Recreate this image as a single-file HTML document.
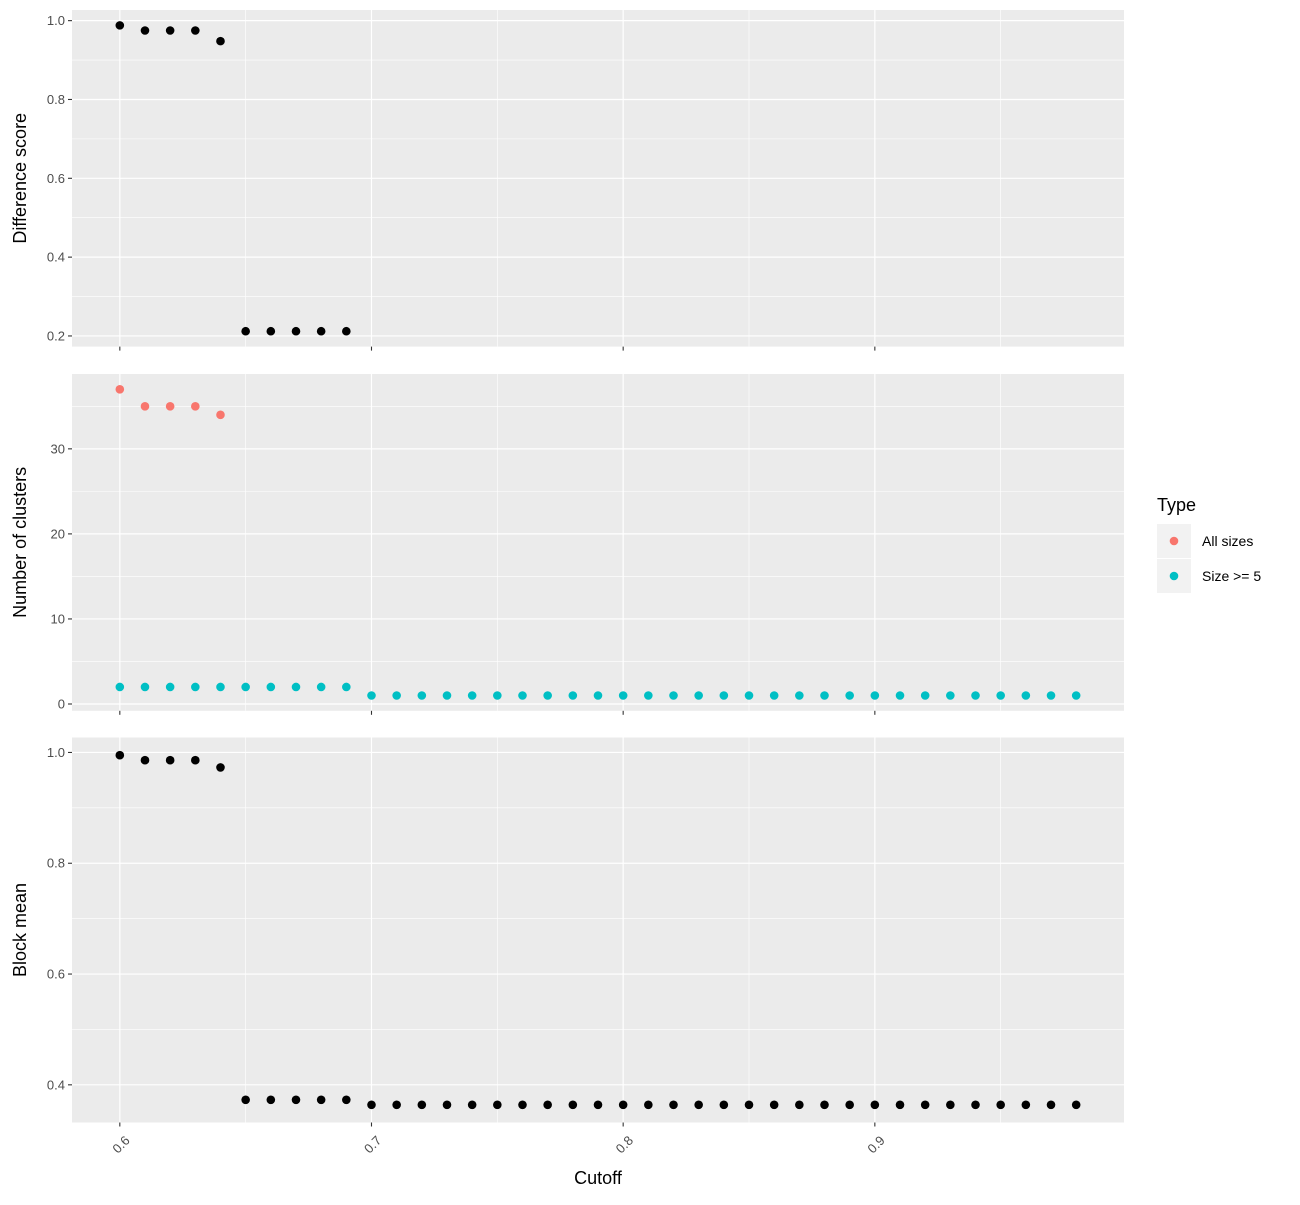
<!DOCTYPE html>
<html><head><meta charset="utf-8"><style>
body{margin:0;background:#fff;}
svg text{font-family:"Liberation Sans",sans-serif;}
</style></head><body>
<svg id="c" width="1300" height="1200" xmlns="http://www.w3.org/2000/svg"></svg>
<script>
const cutoffs=[0.6,0.61,0.62,0.63,0.64,0.65,0.66,0.67,0.68,0.69,0.7,0.71,0.72,0.73,0.74,0.75,0.76,0.77,0.78,0.79,0.8,0.81,0.82,0.83,0.84,0.85,0.86,0.87,0.88,0.89,0.9,0.91,0.92,0.93,0.94,0.95,0.96,0.97,0.98];
const diffCutoffs=[0.6,0.61,0.62,0.63,0.64,0.65,0.66,0.67,0.68,0.69];
const diffScore=[0.988,0.975,0.975,0.975,0.948,0.212,0.212,0.212,0.212,0.212];
const allCutoffs=[0.6,0.61,0.62,0.63,0.64];
const allSizes=[37,35,35,35,34];
const size5=[2,2,2,2,2,2,2,2,2,2,1,1,1,1,1,1,1,1,1,1,1,1,1,1,1,1,1,1,1,1,1,1,1,1,1,1,1,1,1];
const blockMean=[0.995,0.986,0.986,0.986,0.973,0.373,0.373,0.373,0.373,0.373,0.364,0.364,0.364,0.364,0.364,0.364,0.364,0.364,0.364,0.364,0.364,0.364,0.364,0.364,0.364,0.364,0.364,0.364,0.364,0.364,0.364,0.364,0.364,0.364,0.364,0.364,0.364,0.364,0.364];
const xTicks=[0.6,0.7,0.8,0.9];
const xMinor=[0.65,0.75,0.85,0.95];
const svg=document.getElementById('c');
const NS='http://www.w3.org/2000/svg';
function mk(t,a,p){const e=document.createElementNS(NS,t);for(const k in a)e.setAttribute(k,a[k]);(p||svg).appendChild(e);return e;}
const X0=72,X1=1124,xmin=0.581,xmax=0.999;
const sx=v=>X0+(v-xmin)/(xmax-xmin)*(X1-X0);
const panels=[
 {name:'difference-score-panel',top:10,bot:346.6,ymin:0.173,ymax:1.027,ticks:[0.2,0.4,0.6,0.8,1.0],minor:[0.3,0.5,0.7,0.9],lab:v=>v.toFixed(1),title:'Difference score'},
 {name:'number-of-clusters-panel',top:374,bot:710.8,ymin:-0.8,ymax:38.8,ticks:[0,10,20,30],minor:[5,15,25,35],lab:v=>String(v),title:'Number of clusters'},
 {name:'block-mean-panel',top:737.5,bot:1122.5,ymin:0.332,ymax:1.027,ticks:[0.4,0.6,0.8,1.0],minor:[0.5,0.7,0.9],lab:v=>v.toFixed(1),title:'Block mean'}
];
panels.forEach((p,i)=>{
 const g=mk('g',{});
 
 
 const sy=v=>p.bot-(v-p.ymin)/(p.ymax-p.ymin)*(p.bot-p.top);
 p.sy=sy;
 const bg=mk('rect',{x:X0,y:p.top,width:X1-X0,height:p.bot-p.top,fill:'#ebebeb'},g);
 
 p.minor.forEach(v=>mk('line',{x1:X0,x2:X1,y1:sy(v),y2:sy(v),stroke:'#fff','stroke-width':0.6},g));
 xMinor.forEach(v=>mk('line',{x1:sx(v),x2:sx(v),y1:p.top,y2:p.bot,stroke:'#fff','stroke-width':0.6},g));
 p.ticks.forEach(v=>{
  mk('line',{x1:X0,x2:X1,y1:sy(v),y2:sy(v),stroke:'#fff','stroke-width':1.2},g);
  mk('line',{x1:X0-4,x2:X0,y1:sy(v),y2:sy(v),stroke:'#333','stroke-width':1.1},g);
  const t=mk('text',{x:X0-7,y:sy(v)+4.5,'text-anchor':'end','font-size':13,fill:'#4d4d4d'},g);
  t.textContent=p.lab(v);
  
 });
 xTicks.forEach(v=>{
  mk('line',{x1:sx(v),x2:sx(v),y1:p.top,y2:p.bot,stroke:'#fff','stroke-width':1.2},g);
  mk('line',{x1:sx(v),x2:sx(v),y1:p.bot,y2:p.bot+4,stroke:'#333','stroke-width':1.1},g);
 });
 const cy=(p.top+p.bot)/2;
 const tt=mk('text',{x:26,y:cy,transform:`rotate(-90 26 ${cy})`,'text-anchor':'middle','font-size':18,fill:'#000'},g);
 tt.textContent=p.title;
 
});
function pts(p,xs,ys,col,nm){
 xs.forEach((x,i)=>{const c=mk('circle',{cx:sx(x),cy:p.sy(ys[i]),r:4.3,fill:col});
 });
}
pts(panels[0],diffCutoffs,diffScore,'#000','difference-point');
pts(panels[1],allCutoffs,allSizes,'#f8766d','all-sizes-point');
pts(panels[1],cutoffs,size5,'#00bfc4','size5-point');
pts(panels[2],cutoffs,blockMean,'#000','block-mean-point');
const pb=panels[2].bot;
xTicks.forEach(v=>{
 const x=sx(v)+4,y=pb+12;
 const t=mk('text',{x:x,y:y,transform:`rotate(-45 ${x} ${y})`,'text-anchor':'end','dominant-baseline':'hanging','font-size':13,fill:'#4d4d4d'});
 t.textContent=v.toFixed(1);
 
});
const xt=mk('text',{x:598,y:1184,'text-anchor':'middle','font-size':18});
xt.textContent='Cutoff';
const lg=mk('g',{});
const lt=mk('text',{x:1157,y:511,'font-size':18},lg);lt.textContent='Type';
[['All sizes','#f8766d',524],['Size >= 5','#00bfc4',559]].forEach(([n,c,y])=>{
 mk('rect',{x:1157,y:y,width:34,height:34,fill:'#f2f2f2'},lg);
 const d=mk('circle',{cx:1174,cy:y+17,r:4.3,fill:c},lg);
 
 const t=mk('text',{x:1202,y:y+22,'font-size':14},lg);t.textContent=n;
 
});
</script>
</body></html>
